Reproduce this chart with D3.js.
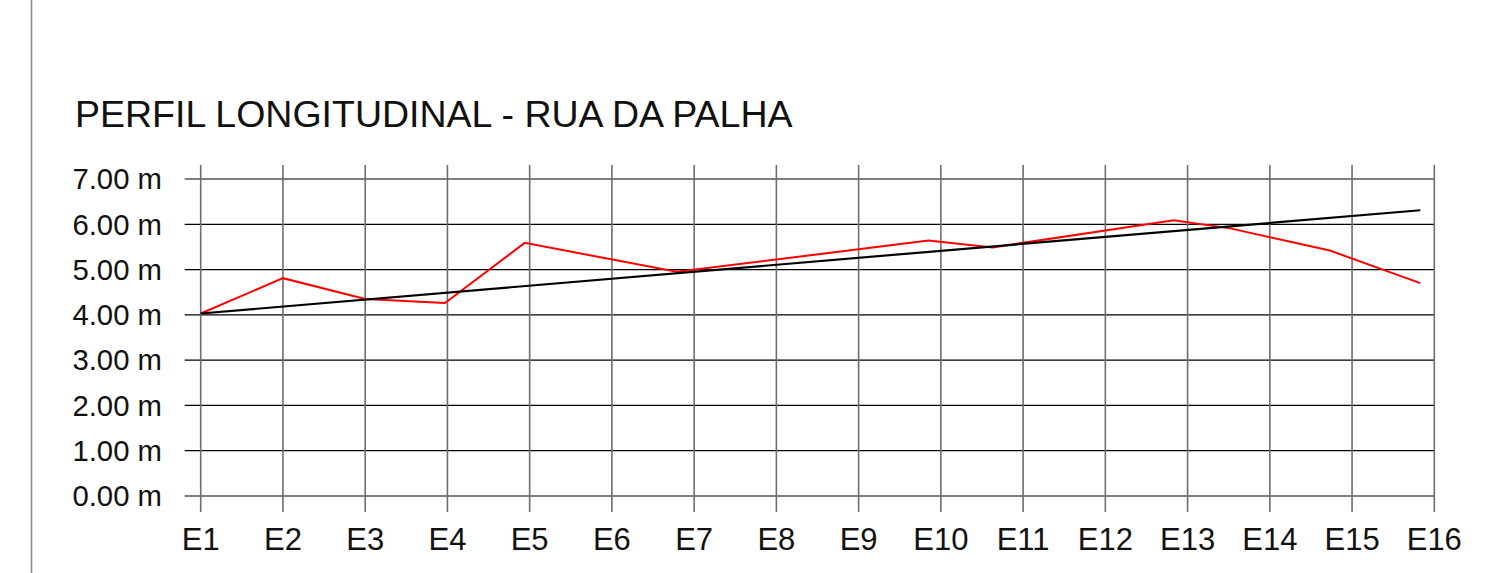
<!DOCTYPE html>
<html>
<head>
<meta charset="utf-8">
<script src="https://cdn.jsdelivr.net/npm/d3@7"></script>
<style>
	html, body { margin: 0; padding: 0; background: #fff; }
	svg { display: block; font-family: "Liberation Sans", Arial, sans-serif; }
</style>
</head>
<body>
<svg id="chart" width="1485" height="573"></svg>
<script>
"use strict";

// station labels along the street
var stations = ["E1", "E2", "E3", "E4", "E5", "E6", "E7", "E8",
	"E9", "E10", "E11", "E12", "E13", "E14", "E15", "E16"];

// elevation ticks (m)
var elevTicks = [0, 1, 2, 3, 4, 5, 6, 7];

// terrain profile: position in stations, elevation in m
var terrainX = [0, 1, 2, 2.97, 3.94, 5.79, 8.85, 9.63, 11.83, 12.52, 13.73, 14.83];
var terrainY = [4.03, 4.81, 4.35, 4.26, 5.59, 4.95, 5.64, 5.49, 6.09, 5.91, 5.42, 4.70];

// design grade line
var gradeX = [0, 14.83];
var gradeY = [4.03, 6.31];

(function() {
	var svg = d3.select("#chart");

	var x = d3.scaleLinear().domain([0, stations.length - 1]).range([200.7, 1434.3]);
	var y = d3.scaleLinear().domain([0, 7]).range([496, 179]);

	// left frame border
	svg.append("line")
		.attr("x1", 31.5).attr("x2", 31.5)
		.attr("y1", 0).attr("y2", 573)
		.attr("stroke", "#8a8a8a")
		.attr("stroke-width", 1.6);

	svg.append("text")
		.attr("x", 75)
		.attr("y", 127)
		.attr("font-size", 37.5)
		.attr("fill", "#111")
		.text("PERFIL LONGITUDINAL - RUA DA PALHA");

	// horizontal grid
	svg.append("g")
		.selectAll("line")
		.data(elevTicks)
		.join("line")
		.attr("x1", x(0) - 16)
		.attr("x2", x(stations.length - 1))
		.attr("y1", d => y(d))
		.attr("y2", d => y(d))
		.attr("stroke", "#000")
		.attr("stroke-width", 1.2);

	// vertical grid
	svg.append("g")
		.selectAll("line")
		.data(stations)
		.join("line")
		.attr("x1", (d, i) => x(i))
		.attr("x2", (d, i) => x(i))
		.attr("y1", y(7) - 14)
		.attr("y2", y(0) + 16)
		.attr("stroke", "#6e6e6e")
		.attr("stroke-width", 1.6);

	// axis labels
	svg.append("g")
		.selectAll("text")
		.data(elevTicks)
		.join("text")
		.attr("x", 162)
		.attr("y", d => y(d))
		.attr("dy", "0.35em")
		.attr("text-anchor", "end")
		.attr("font-size", 29.3)
		.attr("fill", "#111")
		.text(d => d3.format(".2f")(d) + " m");

	svg.append("g")
		.selectAll("text")
		.data(stations)
		.join("text")
		.attr("x", (d, i) => x(i))
		.attr("y", 550)
		.attr("text-anchor", "middle")
		.attr("font-size", 31)
		.attr("fill", "#111")
		.text(d => d);

	var line = d3.line()
		.x(d => x(d[0]))
		.y(d => y(d[1]));

	svg.append("path")
		.datum(d3.zip(terrainX, terrainY))
		.attr("d", line)
		.attr("fill", "none")
		.attr("stroke", "#ff0000")
		.attr("stroke-width", 2);

	svg.append("path")
		.datum(d3.zip(gradeX, gradeY))
		.attr("d", line)
		.attr("fill", "none")
		.attr("stroke", "#000")
		.attr("stroke-width", 2.2);
}());
</script>
</body>
</html>
